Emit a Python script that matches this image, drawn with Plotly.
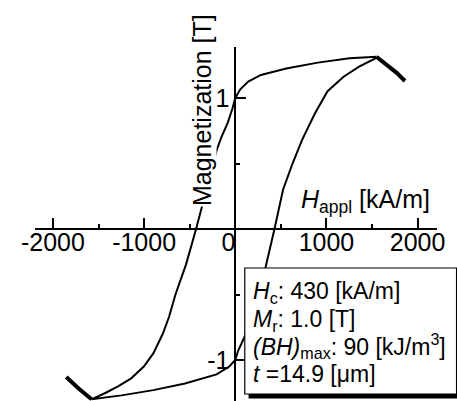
import plotly.graph_objects as go

# Hysteresis loop of the magnet film: applied field H [kA/m] vs magnetization M [T]
# Descending branch (from positive saturation to negative saturation)
H_down = [1548, 1253, 906, 559, 281, 142, 55, 0, -31, -83, -153, -205, -290, -378,
          -430, -540, -656, -726, -795, -899, -1003, -1142, -1281, -1420, -1576]
M_down = [1.315, 1.303, 1.27, 1.225, 1.176, 1.125, 1.066, 1.0, 0.92, 0.81, 0.70, 0.60,
          0.37, 0.13, 0.0, -0.27, -0.50, -0.67, -0.80, -0.95, -1.05, -1.14, -1.20, -1.25, -1.30]

# Ascending branch (from negative saturation back to positive saturation)
H_up = [-1576, -1247, -899, -552, -205, -66, 0, 31, 104, 153, 205, 290, 333, 430,
        524, 628, 733, 872, 1010, 1184, 1358, 1531, 1548]
M_up = [-1.30, -1.27, -1.23, -1.18, -1.11, -1.05, -1.0, -0.93, -0.82, -0.70, -0.60,
        -0.39, -0.29, 0.0, 0.30, 0.50, 0.68, 0.88, 1.05, 1.16, 1.24, 1.30, 1.315]

# High-field ends of the sweep
H_tail_pos = [1548, 1670, 1774, 1861]
M_tail_pos = [1.315, 1.25, 1.19, 1.13]
H_tail_neg = [-1576, -1715, -1854]
M_tail_neg = [-1.30, -1.22, -1.13]

# Axis ticks
x_tickvals = [-2000, -1000, 0, 1000, 2000]
x_ticktext = ["-2000", "-1000", "0\u00a0\u00a0", "1000", "2000"]
x_minor = [-1500, -500, 500, 1500]
y_tickvals = [-1, 1]
y_ticktext = ["-1", "1"]
y_minor = [-0.5, 0.5]

# Sample properties
Hc = 430
Mr = 1.0
BHmax = 90
thickness = 14.9

W, Hgt = 457, 401
FONT = "Liberation Sans, Arial, sans-serif"


def px(x):
    return x / W


def py(y):
    return 1 - y / Hgt


X_DOMAIN = [px(22), px(445)]
X_RANGE = [(22 - 233) / 0.096, (445 - 233) / 0.096]

fig = go.Figure()
fig.add_trace(go.Scatter(
    x=H_down + H_up, y=M_down + M_up, mode="lines",
    line=dict(color="black", width=2), hoverinfo="skip", showlegend=False))
fig.add_trace(go.Scatter(
    x=H_tail_pos + [None] + H_tail_neg, y=M_tail_pos + [None] + M_tail_neg,
    mode="lines", line=dict(color="black", width=4), hoverinfo="skip",
    showlegend=False))
# carrier trace for the label-only field axis
fig.add_trace(go.Scatter(x=[None], y=[None], xaxis="x2", yaxis="y",
                         hoverinfo="skip", showlegend=False))

tickfont = dict(family=FONT, size=25, color="black")

fig.update_layout(
    width=W, height=Hgt,
    margin=dict(l=0, r=0, t=0, b=0),
    paper_bgcolor="white", plot_bgcolor="rgba(0,0,0,0)",
    showlegend=False,
    xaxis=dict(
        domain=X_DOMAIN, range=X_RANGE,
        anchor="free", position=py(229),
        showline=True, linecolor="black", linewidth=1.5,
        showgrid=False, zeroline=False,
        tickmode="array", tickvals=x_tickvals, showticklabels=False,
        ticks="inside", ticklen=10, tickwidth=1.5, tickcolor="black",
        minor=dict(tickvals=x_minor, ticks="inside", ticklen=4,
                   tickwidth=1.5, tickcolor="black", showgrid=False)),
    xaxis2=dict(
        domain=X_DOMAIN, range=X_RANGE, overlaying="x",
        anchor="free", position=py(225), side="bottom",
        showline=False, showgrid=False, zeroline=False, ticks="",
        tickmode="array", tickvals=x_tickvals, ticktext=x_ticktext,
        tickfont=tickfont),
    yaxis=dict(
        domain=[0, py(47)],
        range=[(229 - 401) / 131, (229 - 47) / 131],
        anchor="free", position=px(233),
        showline=True, linecolor="black", linewidth=1.5,
        showgrid=False, zeroline=False,
        tickmode="array", tickvals=y_tickvals, ticktext=y_ticktext,
        tickfont=tickfont,
        ticks="inside", ticklen=10, tickwidth=1.5, tickcolor="black",
        minor=dict(tickvals=y_minor, ticks="inside", ticklen=4,
                   tickwidth=1.5, tickcolor="black", showgrid=False)),
)

# Parameter box with drop shadow
fig.add_shape(type="rect", xref="paper", yref="paper",
              x0=px(247), x1=px(470), y0=py(398.5), y1=py(272),
              fillcolor="black", line=dict(width=0), layer="above")
fig.add_shape(type="rect", xref="paper", yref="paper",
              x0=px(243), x1=px(466), y0=py(394), y1=py(268),
              fillcolor="white", line=dict(color="black", width=1.2), layer="above")

fig.add_annotation(
    xref="paper", yref="paper", x=px(198), y=py(110),
    text="Magnetization [T]", textangle=-90, showarrow=False,
    xanchor="center", yanchor="middle", bgcolor="white", borderpad=0,
    font=dict(family=FONT, size=25, color="black"))

fig.add_annotation(
    xref="paper", yref="paper", x=px(301), y=py(201),
    text="<i>H</i><sub>appl</sub> [kA/m]", showarrow=False,
    xanchor="left", yanchor="middle", borderpad=0,
    font=dict(family=FONT, size=25, color="black"))

box_lines = [
    f"<i>H</i><sub>c</sub>: {Hc} [kA/m]",
    f"<i>M</i><sub>r</sub>: {Mr:.1f} [T]",
    f"<i>(BH)</i><sub>max</sub>: {BHmax} [kJ/m<sup>3</sup>]",
    f"<i>t</i> ={thickness} [\u03bcm]",
]
line_mid = [292, 320, 346, 374]
for txt, ym in zip(box_lines, line_mid):
    fig.add_annotation(
        xref="paper", yref="paper", x=px(251), y=py(ym),
        text=txt, showarrow=False, align="left",
        xanchor="left", yanchor="middle", borderpad=0,
        font=dict(family=FONT, size=23, color="black"))

fig.write_html("out.html")
